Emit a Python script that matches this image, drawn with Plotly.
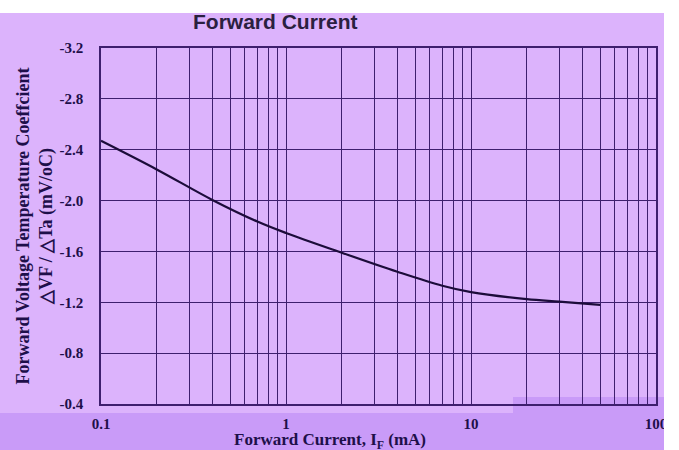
import plotly.graph_objects as go

# 순방향 전류 (mA)
current_ma = [0.1, 0.2, 0.4, 0.7, 1, 2, 4, 7, 10, 20, 30, 50]
# 온도 계수 (mV/oC)
temp_coeff = [-2.47, -2.245, -2.005, -1.835, -1.745, -1.59, -1.44, -1.33, -1.28, -1.225, -1.205, -1.18]

y_ticks = [-3.2, -2.8, -2.4, -2.0, -1.6, -1.2, -0.8, -0.4]
x_decades = [0.1, 1, 10, 100]
x_decade_labels = ['0.1', '1', '10', '100']

LIGHT = '#dcb3fc'
DARK = '#c99bf8'
INK = '#1e0f4a'
GRID = '#3e1f6e'

# 로그 격자선 (1~9 각 자릿수)
x_grid = []
for d in [0.1, 1, 10]:
    for k in range(1, 10):
        x_grid.append(round(d * k, 4))
x_grid.append(100)
x_text = ['<b>%s</b>' % x_decade_labels[x_decades.index(v)] if v in x_decades else '' for v in x_grid]

fig = go.Figure()
fig.add_trace(go.Scatter(
    x=current_ma, y=temp_coeff, mode='lines',
    line=dict(color='#1c0c3a', width=2.2, shape='spline', smoothing=1),
    showlegend=False
))

fig.update_layout(
    width=679, height=450,
    margin=dict(l=101, r=23, t=48, b=46),
    paper_bgcolor=LIGHT, plot_bgcolor=LIGHT,
    font=dict(family='Liberation Serif', color=INK),
    xaxis=dict(
        type='log', range=[-1, 2], automargin=False,
        tickvals=x_grid, ticktext=x_text, tickangle=0,
        showgrid=True, gridcolor=GRID, gridwidth=1,
        showline=True, linecolor=GRID, linewidth=1.5, mirror=True,
        ticks='', tickfont=dict(size=15, family='Liberation Serif', color=INK),
        ticklabelstandoff=5,
        zeroline=False
    ),
    yaxis=dict(
        range=[-0.4, -3.2], automargin=False,
        tickvals=y_ticks, ticktext=['<b>%.1f</b>' % v for v in y_ticks],
        showgrid=True, gridcolor=GRID, gridwidth=1,
        showline=True, linecolor=GRID, linewidth=1.5, mirror=True,
        ticks='', tickfont=dict(size=15, family='Liberation Serif', color=INK),
        ticklabelstandoff=13,
        title=dict(text='<b>Forward Voltage Temperature Coeffcient<br>△VF / △Ta (mV/oC)</b>',
                   font=dict(size=18, family='Liberation Serif', color=INK), standoff=2),
        zeroline=False
    ),
)

# 배경 띠 (스캔 이미지 느낌)
px_x = lambda p: (p - 101) / 555
px_y = lambda p: (404 - p) / 356
fig.add_shape(type='rect', xref='paper', yref='paper', layer='below',
              x0=px_x(0), x1=px_x(664), y0=px_y(450), y1=px_y(413),
              fillcolor=DARK, line=dict(width=0))
fig.add_shape(type='rect', xref='paper', yref='paper', layer='below',
              x0=px_x(513), x1=px_x(664), y0=px_y(413), y1=px_y(397),
              fillcolor=DARK, line=dict(width=0))
fig.add_shape(type='rect', xref='paper', yref='paper', layer='above',
              x0=px_x(0), x1=px_x(679), y0=px_y(13), y1=px_y(0),
              fillcolor='white', line=dict(width=0))
fig.add_shape(type='rect', xref='paper', yref='paper', layer='above',
              x0=px_x(664), x1=px_x(679), y0=px_y(450), y1=px_y(0),
              fillcolor='white', line=dict(width=0))

# 제목
fig.add_annotation(
    text='<b>Forward Current</b>', xref='paper', yref='paper',
    x=px_x(275), y=px_y(21), xanchor='center', yanchor='middle',
    showarrow=False, font=dict(size=21, family='Liberation Sans', color='#2a2040')
)

# x축 제목
fig.add_annotation(
    text='<b>Forward Current, I<sub>F</sub> (mA)</b>', xref='paper', yref='paper',
    x=px_x(330), y=px_y(441), xanchor='center', yanchor='middle',
    showarrow=False, font=dict(size=17, family='Liberation Serif', color=INK)
)

# 페이지 기본 여백 제거
fig.write_html("out.html", config={'displayModeBar': False},
               post_script="document.body.style.margin='0';")
